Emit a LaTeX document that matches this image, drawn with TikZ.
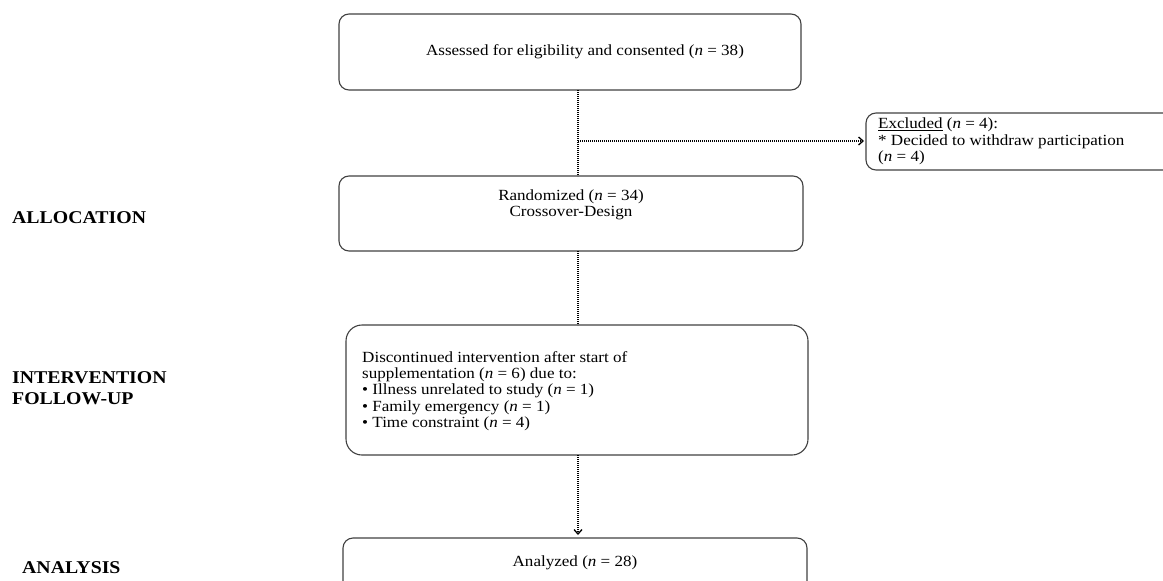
\documentclass[tikz,border=0pt]{standalone}
\usepackage{fontspec}
\setmainfont[FakeStretch=1.1]{Liberation Serif}
\usetikzlibrary{arrows.meta}
\begin{document}
\begin{tikzpicture}[x=1pt,y=-1pt,
  boxline/.style={draw=black!75, line width=1.1pt},
  dots/.style={line width=1.1pt, dash pattern=on 0.9pt off 1.1pt},
  tip/.style={-{Straight Barb[length=4.5pt,width=8pt,line width=1.3pt]}},
  txt/.style={font=\fontsize{15.5}{16.3}\selectfont, inner sep=0pt},
  stage/.style={font=\fontsize{18}{21}\selectfont\bfseries, inner sep=0pt, anchor=west, align=left}]
\useasboundingbox (0,0) rectangle (1163,581);
% boxes
\draw[boxline, rounded corners=10pt] (339,14) rectangle (801,90);
\node[txt] (t1) at (585,52) {Assessed for eligibility and consented (\textit{n} = 38)};
\coordinate (b1) at (578,90);

\draw[boxline, rounded corners=10pt] (339,176) rectangle (803,251);
\node[txt, align=center] (t2) at (571,205) {Randomized (\textit{n} = 34)\\Crossover-Design};
\coordinate (b2top) at (578,176);
\coordinate (b2bot) at (578,251);

\draw[boxline, rounded corners=10pt] (1170,113) -- (866,113) -- (866,170) -- (1170,170);
\node[txt, anchor=north west, align=left] (t3) at (878,118) {\underline{Excluded} (\textit{n} = 4):\\* Decided to withdraw participation\\(\textit{n} = 4)};
\coordinate (exl) at (864,141);
\coordinate (jn) at (578,141);

\draw[boxline, rounded corners=16pt] (346,325) rectangle (808,455);
\node[txt, anchor=north west, align=left] (t4) at (362,351) {Discontinued intervention after start of\\supplementation (\textit{n} = 6) due to:\\\textbullet\ Illness unrelated to study (\textit{n} = 1)\\\textbullet\ Family emergency (\textit{n} = 1)\\\textbullet\ Time constraint (\textit{n} = 4)};
\coordinate (b3top) at (578,325);
\coordinate (b3bot) at (578,455);

\draw[boxline, rounded corners=10pt] (343,600) -- (343,538) -- (807,538) -- (807,600);
\node[txt] (t5) at (575,563) {Analyzed (\textit{n} = 28)};
\coordinate (b4top) at (578,535);

% connectors
\draw[dots] (b1) -- (b2top);
\draw[dots, tip] (jn) -- (exl);
\draw[dots] (b2bot) -- (b3top);
\draw[dots, tip] (b3bot) -- (b4top);

% stage labels
\node[stage] (s1) at (12,218) {ALLOCATION};
\node[stage] (s2) at (12,388) {INTERVENTION\\FOLLOW-UP};
\node[stage] (s3) at (22,568) {ANALYSIS};
\end{tikzpicture}
\end{document}
